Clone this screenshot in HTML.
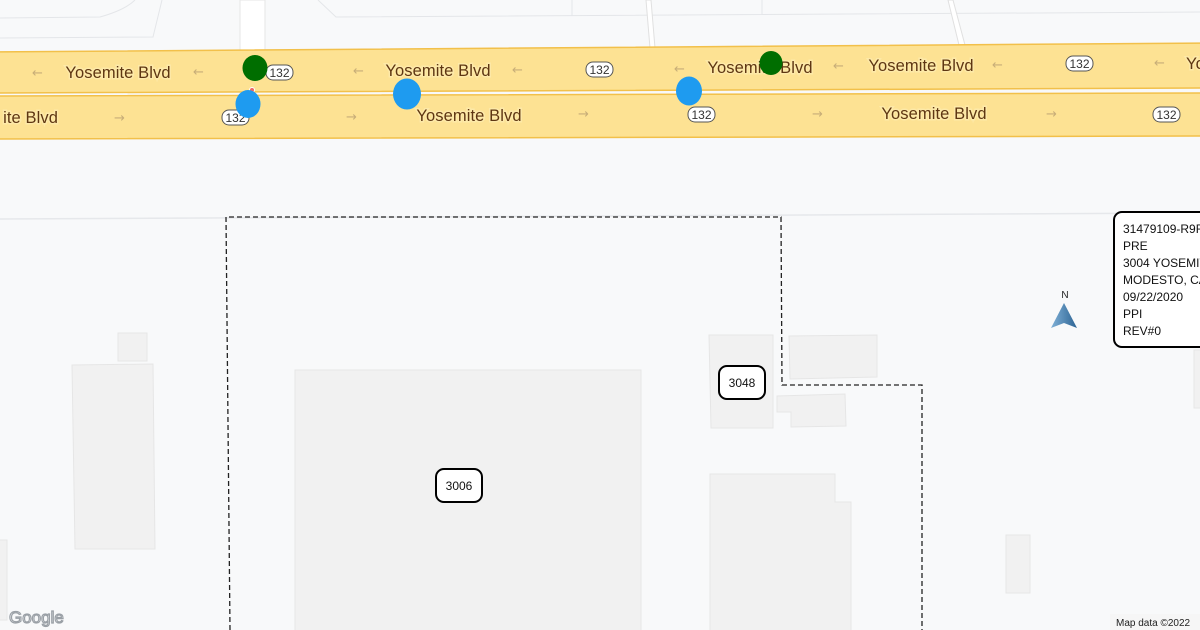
<!DOCTYPE html>
<html><head><meta charset="utf-8"><style>
html,body{margin:0;padding:0;width:1200px;height:630px;overflow:hidden;background:#f8f9fa}
svg{display:block}
.rl{font-family:"Liberation Sans",sans-serif;font-size:16.5px;fill:#5e3612;stroke:#fde9a8;stroke-width:3;paint-order:stroke;letter-spacing:0.1px}
.sh{font-family:"Liberation Sans",sans-serif;font-size:12px;fill:#333}
.ar{font-family:"DejaVu Sans",sans-serif;font-size:13px;fill:#c8ae78}
.lb{font-family:"Liberation Sans",sans-serif;font-size:12px;fill:#111}
</style></head><body>
<svg width="1200" height="630" viewBox="0 0 1200 630" xmlns="http://www.w3.org/2000/svg">
<rect width="1200" height="630" fill="#f8f9fa"/>
<path d="M0,18 L100,17 Q125,10 135,0" fill="none" stroke="#e4e6e9" stroke-width="1"/>
<path d="M0,38 L153,37 L162,0" fill="none" stroke="#e4e6e9"/>
<path d="M318,0 L336,17 L1200,12" fill="none" stroke="#e4e6e9"/>
<path d="M572,0 L572,16 M762,0 L762,15" stroke="#e4e6e9"/>
<polygon points="240,0 265,0 265,53 240,53" fill="#ffffff" stroke="#e6e6e6"/>
<polygon points="646,0 651,0 655,48 650,48" fill="#ffffff" stroke="#e0e0e0"/>
<polygon points="948,0 953,0 965,45 959,45" fill="#ffffff" stroke="#e0e0e0"/>
<path d="M0,219 L1200,213" stroke="#e6e8eb" stroke-width="1.5"/>
<polygon points="-10,52 1210,43 1210,88 -10,93" fill="#fde293" stroke="#f2c04a" stroke-width="1.5"/>
<polygon points="-10,96 1210,93 1210,136 -10,139" fill="#fde293" stroke="#f2c04a" stroke-width="1.5"/>
<text class="rl" x="118" y="78" text-anchor="middle">Yosemite Blvd</text>
<text class="rl" x="438" y="76" text-anchor="middle">Yosemite Blvd</text>
<text class="rl" x="760" y="73" text-anchor="middle">Yosemite Blvd</text>
<text class="rl" x="921" y="71" text-anchor="middle">Yosemite Blvd</text>
<text class="rl" x="1186" y="69">Yo</text>
<text class="rl" x="58" y="123" text-anchor="end">ite Blvd</text>
<text class="rl" x="469" y="121" text-anchor="middle">Yosemite Blvd</text>
<text class="rl" x="934" y="119" text-anchor="middle">Yosemite Blvd</text>
<g class="ar">
<text x="32" y="77">←</text><text x="193" y="76">←</text><text x="353" y="75">←</text><text x="512" y="74">←</text>
<text x="674" y="73">←</text><text x="833" y="70">←</text><text x="992" y="69">←</text><text x="1154" y="67">←</text>
<text x="114" y="122">→</text><text x="346" y="121">→</text><text x="578" y="118">→</text><text x="812" y="118">→</text><text x="1046" y="118">→</text>
</g>
<g>
<rect x="266" y="65" width="27" height="15" rx="7" fill="#fff" stroke="#555"/><text class="sh" x="279.5" y="77" text-anchor="middle">132</text>
<rect x="586" y="62" width="27" height="15" rx="7" fill="#fff" stroke="#555"/><text class="sh" x="599.5" y="74" text-anchor="middle">132</text>
<rect x="1066" y="56" width="27" height="15" rx="7" fill="#fff" stroke="#555"/><text class="sh" x="1079.5" y="68" text-anchor="middle">132</text>
<rect x="222" y="110" width="27" height="15" rx="7" fill="#fff" stroke="#555"/><text class="sh" x="235.5" y="122" text-anchor="middle">132</text>
<rect x="688" y="107" width="27" height="15" rx="7" fill="#fff" stroke="#555"/><text class="sh" x="701.5" y="119" text-anchor="middle">132</text>
<rect x="1153" y="107" width="27" height="15" rx="7" fill="#fff" stroke="#555"/><text class="sh" x="1166.5" y="119" text-anchor="middle">132</text>
</g>
<circle cx="252" cy="90" r="2.5" fill="#e66" stroke="#fff"/>
<ellipse cx="255" cy="68" rx="12.5" ry="13" fill="#006e00"/>
<ellipse cx="771" cy="63" rx="11.5" ry="12" fill="#006e00"/>
<ellipse cx="248" cy="104" rx="12.5" ry="14" fill="#1e9bf0"/>
<ellipse cx="407" cy="94" rx="14" ry="15.5" fill="#1e9bf0"/>
<ellipse cx="689" cy="91" rx="13" ry="14.5" fill="#1e9bf0"/>
<g fill="#f1f1f1" stroke="#e6e6e6">
<rect x="118" y="333" width="29" height="28"/>
<polygon points="72,365 153,364 155,549 75,549"/>
<rect x="295" y="370" width="346" height="265"/>
<polygon points="709,335 773,335 773,428 711,428"/>
<polygon points="789,336 877,335 877,377 790,379"/>
<polygon points="777,396 845,394 846,426 791,427 791,412 777,412"/>
<polygon points="710,474 835,474 835,502 851,502 851,635 710,635"/>
<rect x="1006" y="535" width="24" height="58"/>
<polygon points="-5,540 7,540 7,620 -5,620"/>
<rect x="1194" y="350" width="10" height="58"/>
</g>
<path d="M230,630 L226,217 L781,217 L782,385 L922,385 L922,630" fill="none" stroke="#222" stroke-width="1.3" stroke-dasharray="5,3"/>
<rect x="436" y="469" width="46" height="33" rx="8" fill="#fff" stroke="#000" stroke-width="2"/>
<text class="lb" x="459" y="490" text-anchor="middle">3006</text>
<rect x="719" y="366" width="46" height="33" rx="8" fill="#fff" stroke="#000" stroke-width="2"/>
<text class="lb" x="742" y="387" text-anchor="middle">3048</text>
<text x="1065" y="298" font-family="Liberation Sans,sans-serif" font-size="10" fill="#222" text-anchor="middle">N</text>
<defs><linearGradient id="g" x1="0" x2="1"><stop offset="0" stop-color="#7fb0d6"/><stop offset="1" stop-color="#2d6494"/></linearGradient></defs>
<polygon points="1064,303 1051,328 1064,323 1077,328" fill="url(#g)"/>
<rect x="1114" y="212" width="100" height="135" rx="8" fill="#fff" stroke="#000" stroke-width="2"/>
<g class="lb" font-size="11.5">
<text x="1123" y="233">31479109-R9R</text>
<text x="1123" y="250">PRE</text>
<text x="1123" y="267">3004 YOSEMITE</text>
<text x="1123" y="284">MODESTO, CA</text>
<text x="1123" y="301">09/22/2020</text>
<text x="1123" y="318">PPI</text>
<text x="1123" y="335">REV#0</text>
</g>
<text x="9" y="623" font-family="Liberation Sans,sans-serif" font-size="17" fill="#f8f9fa" stroke="#9aa0a6" stroke-width="1.2">Google</text>
<rect x="1110" y="614" width="90" height="16" fill="#f5f5f5" opacity="0.8"/>
<text x="1116" y="626" font-family="Liberation Sans,sans-serif" font-size="10" fill="#222">Map data ©2022</text>
</svg>
</body></html>
